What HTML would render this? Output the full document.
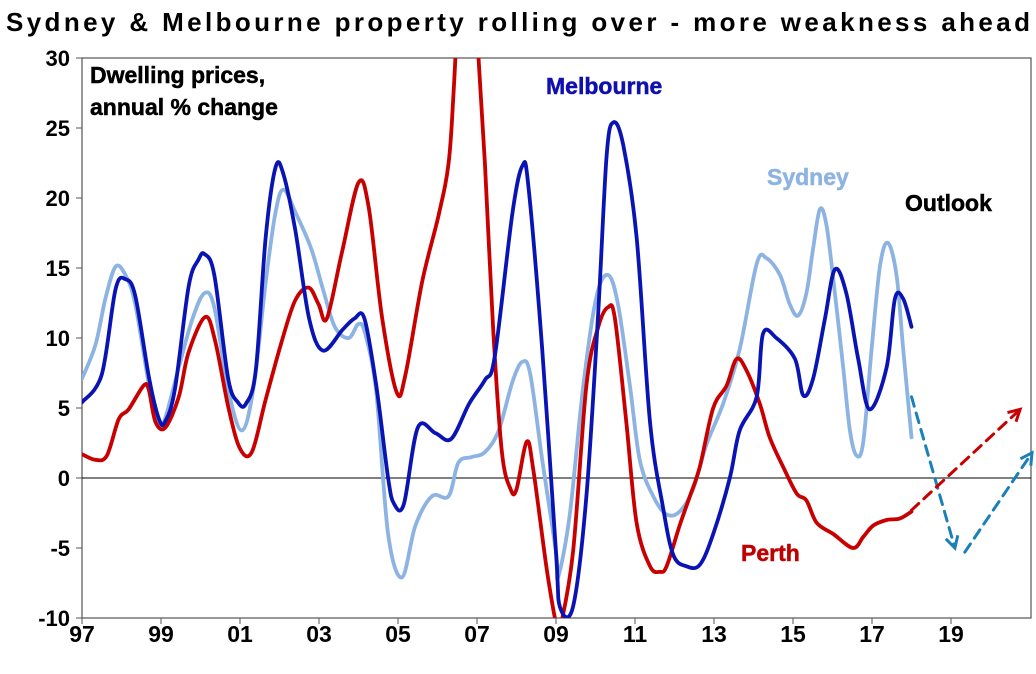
<!DOCTYPE html>
<html><head><meta charset="utf-8"><style>
html,body{margin:0;padding:0;background:#fff;}
svg{display:block;font-family:"Liberation Sans",Arial,sans-serif;font-weight:bold;}
</style></head><body>
<svg id="chart" width="1036" height="674" viewBox="0 0 1036 674" xmlns="http://www.w3.org/2000/svg">
<text x="6" y="31" font-size="26" textLength="1024" lengthAdjust="spacing">Sydney &amp; Melbourne property rolling over - more weakness ahead</text>
<defs><clipPath id="plotclip"><rect x="82" y="58" width="950" height="560"/></clipPath></defs>
<rect x="82" y="58" width="949" height="560" fill="none" stroke="#555" stroke-width="1.2"/>
<g id="yaxis"></g>
<g id="xaxis"></g>
<g id="series" clip-path="url(#plotclip)"></g>
<text x="90" y="83" font-size="23" stroke="#000" stroke-width="0.5">Dwelling prices,</text>
<text x="90" y="115" font-size="23" stroke="#000" stroke-width="0.5">annual % change</text>
<text x="546" y="94" font-size="23" fill="#1010b0" stroke="#1010b0" stroke-width="0.5">Melbourne</text>
<text x="767" y="185" font-size="23" fill="#8db3e2" stroke="#8db3e2" stroke-width="0.5">Sydney</text>
<text x="905" y="211" font-size="23" fill="#000" stroke="#000" stroke-width="0.5">Outlook</text>
<text x="741" y="561" font-size="23" fill="#c00000" stroke="#c00000" stroke-width="0.5">Perth</text>
</svg>
<script>
const yTicks=[30,25,20,15,10,5,0,-5,-10];
const yTickLabels=["30","25","20","15","10","5","0","-5","-10"];
const xTicks=[1997,1999,2001,2003,2005,2007,2009,2011,2013,2015,2017,2019];
const xTickLabels=["97","99","01","03","05","07","09","11","13","15","17","19"];
const melYears=[1997,1997.5,1997.85,1998.1,1998.35,1998.7,1998.95,1999.1,1999.35,1999.7,1999.95,2000.1,2000.35,2000.7,2000.95,2001.15,2001.4,2001.65,2001.9,2002.1,2002.4,2002.75,2003.1,2003.6,2003.9,2004.15,2004.45,2004.75,2004.9,2005.15,2005.5,2005.95,2006.35,2006.8,2007.2,2007.45,2007.9,2008.15,2008.3,2008.65,2009.0,2009.1,2009.43,2009.77,2010.07,2010.28,2010.45,2010.7,2011.04,2011.38,2011.71,2011.97,2012.3,2012.64,2012.98,2013.4,2013.65,2014.08,2014.24,2014.58,2015.05,2015.26,2015.51,2015.81,2016.06,2016.35,2016.65,2016.94,2017.37,2017.58,2017.79,2018.0];
const melValues=[5.4,7.4,13.5,14.2,13,7.1,4.2,4,6.3,13.7,15.6,16,14.5,7.1,5.4,5.3,7.7,17.2,22.2,21.7,17.7,11.4,9.1,10.6,11.4,11.4,6.6,0,-1.85,-1.85,3.6,3.2,2.8,5.3,7,8.7,19,22.3,20.9,9.2,-5.3,-9.2,-9.2,-1.3,11.9,23,25.4,23.8,17.2,4,-2.1,-5.5,-6.3,-6.2,-4,0,3.4,5.8,10.3,10,8.5,5.9,7.1,11.4,14.9,13.2,8.5,4.9,7.9,12.8,12.8,10.8,8.7];
const sydYears=[1997,1997.34,1997.6,1997.85,1998.1,1998.35,1998.7,1998.95,1999.1,1999.45,1999.8,2000.1,2000.35,2000.7,2001.05,2001.35,2001.65,2001.9,2002.1,2002.4,2002.8,2003.1,2003.4,2003.75,2004.0,2004.17,2004.45,2004.75,2005.1,2005.44,2005.86,2006.28,2006.53,2006.87,2007.2,2007.55,2007.9,2008.15,2008.35,2008.65,2009.0,2009.05,2009.35,2009.69,2010.02,2010.32,2010.57,2010.87,2011.12,2011.46,2011.8,2012.13,2012.47,2012.81,2013.23,2013.65,2014.08,2014.33,2014.67,2014.92,2015.13,2015.34,2015.51,2015.68,2015.85,2016.06,2016.27,2016.44,2016.61,2016.78,2016.99,2017.2,2017.4,2017.62,2017.79,2018.0];
const sydValues=[7.1,9.5,12.9,15.1,14.5,12.4,6.6,4,4.2,7.9,11.4,13.2,12.2,6.3,3.4,6.6,14,19,20.6,19,16.4,13.5,10.8,10,11,10.3,6.1,-4,-7.1,-3.4,-1.3,-1.3,1.1,1.5,1.85,3.4,6.9,8.3,7.4,1.3,-5.3,-7.1,-2.6,6.6,12.9,14.5,12.4,6.6,1.3,-1.3,-2.6,-2.4,-0.8,2.4,5.3,9.2,15.3,15.7,14.5,12.4,11.6,13.2,16.4,19.2,18,13.2,7.9,3.4,1.6,2.6,9.2,15.1,16.8,14.5,9.2,2.9];
const perYears=[1997,1997.34,1997.63,1997.93,1998.18,1998.56,1998.69,1998.86,1999.11,1999.45,1999.7,2000.12,2000.37,2000.71,2001.0,2001.3,2001.64,2002.06,2002.4,2002.74,2002.99,2003.2,2003.58,2004.0,2004.26,2004.6,2004.97,2005.19,2005.61,2006.03,2006.28,2006.41,2006.6,2006.75,2006.9,2007.03,2007.2,2007.41,2007.63,2007.85,2008.0,2008.26,2008.43,2008.77,2009.03,2009.1,2009.43,2009.77,2010.07,2010.32,2010.49,2010.78,2011.04,2011.38,2011.63,2011.8,2012.13,2012.39,2012.64,2012.98,2013.32,2013.57,2013.82,2014.16,2014.41,2014.75,2015.09,2015.34,2015.6,2016.02,2016.52,2016.78,2017.03,2017.37,2017.7,2018.0];
const perValues=[1.7,1.3,1.6,4.2,4.9,6.6,6.3,4,3.6,5.8,9,11.5,9.8,5,2.1,1.85,5.5,9.8,12.7,13.6,12.4,11.4,16.1,21.1,19.3,11.4,6.1,7.4,14,18.8,22.5,27.7,38,42,38,30.4,22.5,10.6,1.85,-0.8,-0.8,2.6,0.5,-6.6,-10.8,-10.8,-5.3,6.6,10.8,12.2,11.4,4,-3.2,-6.3,-6.7,-6.3,-3.4,-1.3,0.8,5,6.6,8.5,7.7,5.3,2.9,0.8,-1.1,-1.6,-3.2,-4,-5,-4.2,-3.4,-3,-2.9,-2.4];
const sydOutlookYears=[2018.0,2019.1];
const sydOutlookValues=[5.8,-5.0];
const sydOutlook2Years=[2019.35,2021.05];
const sydOutlook2Values=[-5.3,1.8];
const perOutlookYears=[2018.0,2020.75];
const perOutlookValues=[-2.3,4.9];

const NS="http://www.w3.org/2000/svg";
const X0=82,PXY=39.5;
function xs(yr){return X0+(yr-1997)*PXY;}
function ys(v){return 478-v*14;}
function mk(tag,attrs,parent){const e=document.createElementNS(NS,tag);for(const k in attrs)e.setAttribute(k,attrs[k]);parent.appendChild(e);return e;}
const svg=document.getElementById('chart');
const yax=document.getElementById('yaxis'),xax=document.getElementById('xaxis'),ser=document.getElementById('series');
yTicks.forEach((v,i)=>{
  const t=mk('text',{x:70,y:ys(v)+8,'font-size':22,'text-anchor':'end'},yax);
  
  
  t.textContent=yTickLabels[i];
  const tk=mk('line',{x1:76,x2:82,y1:ys(v),y2:ys(v),stroke:'#555','stroke-width':1},yax);
  
  
});
xTicks.forEach((yr,i)=>{
  const t=mk('text',{x:xs(yr),y:642,'font-size':23,'text-anchor':'middle'},xax);
  
  
  t.textContent=xTickLabels[i];
  const tk=mk('line',{x1:xs(yr),x2:xs(yr),y1:618,y2:624,stroke:'#555','stroke-width':1},xax);
  
  
});
const zl=mk('line',{x1:82,x2:1031,y1:ys(0),y2:ys(0),stroke:'#000','stroke-width':1},ser);


function smoothPath(P){
  let d='M'+P[0][0].toFixed(1)+','+P[0][1].toFixed(1);
  for(let i=0;i<P.length-1;i++){
    const p0=P[Math.max(0,i-1)],p1=P[i],p2=P[i+1],p3=P[Math.min(P.length-1,i+2)];
    const c1x=p1[0]+(p2[0]-p0[0])/6,c1y=p1[1]+(p2[1]-p0[1])/6;
    const c2x=p2[0]-(p3[0]-p1[0])/6,c2y=p2[1]-(p3[1]-p1[1])/6;
    d+=' C'+c1x.toFixed(1)+','+c1y.toFixed(1)+' '+c2x.toFixed(1)+','+c2y.toFixed(1)+' '+p2[0].toFixed(1)+','+p2[1].toFixed(1);
  }
  return d;
}
function line(yrs,vals,color,name,dash,w){
  const P=yrs.map((y,i)=>[xs(y),ys(vals[i])]);
  const a={d:smoothPath(P),fill:'none',stroke:color,'stroke-width':w||3.8,'stroke-linejoin':'round','stroke-linecap':'round'};
  if(dash)a['stroke-dasharray']=dash;
  const p=mk('path',a,ser);
  
  
  return p;
}
function arrowHead(yrs,vals,color,name){
  const x1=xs(yrs[0]),y1=ys(vals[0]),x2=xs(yrs[1]),y2=ys(vals[1]);
  const ang=Math.atan2(y2-y1,x2-x1),L=13;
  const pts=[[x2-L*Math.cos(ang-0.5),y2-L*Math.sin(ang-0.5)],[x2,y2],[x2-L*Math.cos(ang+0.5),y2-L*Math.sin(ang+0.5)]];
  const p=mk('polyline',{points:pts.map(q=>q[0].toFixed(1)+','+q[1].toFixed(1)).join(' '),fill:'none',stroke:color,'stroke-width':3},svg);
  
  
}
line(sydYears,sydValues,'#8db3e2','sydney-line');
line(perYears,perValues,'#c80000','perth-line');
line(melYears,melValues,'#0a14b4','melbourne-line');
line(sydOutlookYears,sydOutlookValues,'#1a80b8','sydney-outlook-down','10,7',3);
line(sydOutlook2Years,sydOutlook2Values,'#1a80b8','sydney-outlook-up','10,7',3);
line(perOutlookYears,perOutlookValues,'#c80000','perth-outlook','10,7',3);
arrowHead(sydOutlookYears,sydOutlookValues,'#1a80b8','sydney-outlook-down-arrowhead');
arrowHead(sydOutlook2Years,sydOutlook2Values,'#1a80b8','sydney-outlook-up-arrowhead');
arrowHead(perOutlookYears,perOutlookValues,'#c80000','perth-outlook-arrowhead');
</script>
</body></html>
